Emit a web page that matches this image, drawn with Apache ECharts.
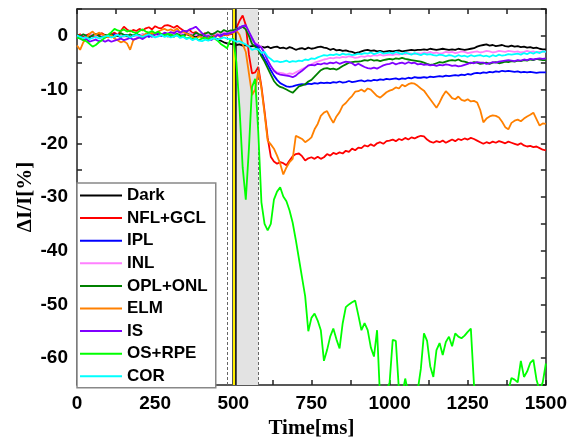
<!DOCTYPE html>
<html><head><meta charset="utf-8">
<script src="https://cdn.jsdelivr.net/npm/echarts@6/dist/echarts.min.js"></script>
<style>html,body{margin:0;padding:0;background:#fff}#c{width:570px;height:444px}</style>
</head><body><div id="c"></div>
<script>
// sampling grid (ms)
const time = [];
for (let t = 0; t <= 1500; t += 10) time.push(t);

const seriesNames = ['Dark','NFL+GCL','IPL','INL','OPL+ONL','ELM','IS','OS+RPE','COR'];
const seriesColors = ['#000000','#ff0000','#0000ff','#ff80ff','#008000','#ff8000','#8000ff','#00ff00','#00ffff'];

const dark = [0.2,0.1,-0.2,0.0,0.3,0.1,-0.1,0.2,0.0,-0.3,
-0.1,0.2,0.3,0.0,-0.2,0.1,0.2,-0.1,0.0,0.3,
0.1,-0.2,0.0,0.2,0.4,0.1,0.0,0.3,0.2,-0.1,
0.0,0.2,0.1,-0.2,0.0,0.3,0.1,0.0,-0.2,0.1,
0.0,-0.3,-0.1,0.1,-0.4,-0.6,-0.9,-1.2,-1.4,-1.5,
-1.6,-1.7,-1.6,-1.8,-1.7,-2.0,-1.9,-1.8,-2.1,-2.0,
-2.2,-2.0,-2.3,-2.1,-2.0,-2.3,-2.2,-2.4,-2.1,-2.3,
-2.6,-2.4,-2.3,-2.5,-2.2,-2.4,-2.3,-2.1,-2.0,-2.2,
-2.3,-2.6,-2.4,-2.7,-2.6,-2.8,-2.7,-2.9,-3.0,-3.2,
-3.1,-2.9,-2.7,-2.6,-2.8,-2.7,-2.9,-2.8,-3.0,-2.9,
-2.8,-2.9,-2.8,-2.7,-2.9,-2.8,-2.7,-2.6,-2.7,-2.6,
-2.6,-2.5,-2.6,-2.4,-2.5,-2.6,-2.5,-2.4,-2.5,-2.6,
-2.5,-2.6,-2.4,-2.5,-2.6,-2.5,-2.4,-2.3,-2.0,-1.8,
-1.7,-1.6,-1.8,-1.7,-1.9,-1.8,-1.7,-1.9,-2.0,-1.8,
-2.0,-1.9,-2.1,-2.0,-2.2,-2.1,-2.3,-2.2,-2.4,-2.5,
-2.5];

const nflGcl = [0.0,0.3,-0.2,0.1,0.4,0.0,-0.3,0.2,0.5,0.1,
-0.2,0.3,0.6,0.2,0.9,1.7,1.2,0.8,1.1,0.9,
1.3,1.0,1.4,1.6,1.2,1.8,1.5,1.4,1.9,2.0,
1.8,1.5,1.9,1.4,1.0,0.8,1.1,0.5,0.7,0.3,
0.2,0.5,0.1,0.4,0.0,0.3,-0.1,0.2,0.1,0.3,
0.4,1.5,2.8,3.8,2.0,-3.5,-7.0,-6.8,-5.8,-9.4,
-14.0,-19.0,-22.5,-23.4,-23.8,-23.5,-23.7,-24.1,-23.2,-22.4,
-22.0,-21.9,-22.4,-23.2,-22.8,-22.6,-22.9,-22.5,-22.9,-22.6,
-22.0,-22.3,-21.8,-22.0,-21.7,-21.9,-21.4,-21.6,-21.0,-21.3,
-20.8,-20.9,-20.4,-20.6,-20.2,-20.5,-20.0,-19.8,-20.1,-19.6,
-19.5,-19.3,-19.6,-19.2,-19.4,-19.0,-19.3,-18.9,-19.1,-18.8,
-18.6,-18.7,-19.3,-19.7,-19.9,-19.6,-19.8,-19.5,-19.9,-19.6,
-19.3,-19.6,-19.2,-19.4,-19.1,-19.3,-19.0,-19.2,-19.5,-19.8,
-20.1,-19.8,-20.0,-19.7,-19.9,-19.6,-19.8,-20.0,-19.7,-19.9,
-20.1,-20.3,-20.0,-20.4,-20.6,-20.5,-20.7,-20.6,-20.9,-21.2,
-21.3];

const ipl = [0.1,-0.2,0.2,0.0,-0.3,0.1,0.3,-0.1,0.0,0.2,
-0.2,0.0,0.3,0.1,-0.1,0.2,0.0,-0.3,0.1,0.2,
0.0,0.3,0.1,-0.2,0.2,0.4,0.1,0.0,0.3,0.2,
0.1,0.4,0.2,0.0,0.3,0.5,0.2,0.1,0.4,0.2,
0.0,0.3,-0.1,0.2,0.4,0.1,0.3,0.5,0.6,0.8,
1.0,1.3,1.6,1.8,1.5,0.6,-0.5,-1.5,-2.3,-3.2,
-4.3,-5.3,-6.4,-7.4,-8.2,-8.8,-9.1,-9.4,-9.5,-9.4,
-9.2,-9.1,-9.0,-9.1,-8.9,-9.0,-8.8,-8.9,-8.7,-8.8,
-8.7,-8.8,-8.6,-8.7,-8.5,-8.7,-8.6,-8.4,-8.6,-8.5,
-8.4,-8.3,-8.5,-8.3,-8.4,-8.2,-8.3,-8.1,-8.2,-8.0,
-8.1,-8.0,-7.9,-8.1,-7.9,-8.0,-7.8,-7.9,-7.7,-7.8,
-7.8,-7.7,-7.8,-7.6,-7.7,-7.6,-7.5,-7.6,-7.4,-7.5,
-7.4,-7.3,-7.4,-7.2,-7.3,-7.1,-7.2,-7.0,-6.9,-7.0,
-6.8,-6.9,-6.7,-6.8,-6.6,-6.7,-6.5,-6.6,-6.5,-6.6,
-6.7,-6.6,-6.8,-6.7,-6.8,-6.7,-6.8,-6.9,-6.8,-6.8,
-6.8];

const inl = [-0.3,0.0,0.2,-0.1,0.1,0.3,0.0,-0.2,0.1,0.0,
0.2,-0.1,0.0,0.3,0.1,-0.2,0.0,0.2,0.1,-0.1,
0.1,0.3,0.0,0.2,0.4,0.1,-0.1,0.2,0.3,0.0,
0.2,0.4,0.1,0.3,0.5,0.2,0.6,0.3,0.1,0.4,
0.0,0.2,0.3,0.1,0.4,0.2,0.5,0.6,0.8,0.7,
0.9,1.2,1.5,1.7,1.4,0.5,-0.4,-1.4,-1.6,-2.1,
-3.2,-4.5,-5.7,-6.4,-6.8,-6.9,-7.0,-7.2,-7.0,-7.1,
-6.8,-6.5,-6.2,-5.9,-5.6,-5.3,-5.0,-4.8,-4.6,-4.4,
-4.3,-4.1,-4.2,-4.0,-4.1,-3.9,-4.0,-3.8,-3.9,-4.1,
-4.0,-3.8,-3.9,-3.7,-3.8,-3.6,-3.7,-3.5,-3.7,-3.6,
-3.5,-3.6,-3.4,-3.5,-3.3,-3.4,-3.2,-3.3,-3.4,-3.2,
-3.3,-3.1,-3.2,-3.0,-3.2,-3.1,-3.3,-3.2,-3.0,-3.1,
-3.0,-3.2,-3.1,-2.9,-3.0,-3.2,-3.1,-3.0,-2.9,-3.1,
-3.0,-2.8,-2.9,-3.1,-3.0,-2.8,-2.9,-3.0,-2.8,-2.9,
-3.0,-2.9,-3.1,-3.0,-2.8,-3.0,-2.9,-3.1,-3.0,-2.9,
-3.0];

const oplOnl = [0.2,-0.1,0.3,0.0,-0.2,0.1,0.4,0.0,-0.3,0.2,
0.0,0.3,-0.2,0.1,0.5,0.2,-0.1,0.3,0.0,0.4,
0.1,-0.3,0.2,0.5,0.0,0.3,0.6,0.1,0.4,0.0,
0.3,-0.2,0.4,0.1,-0.1,0.5,0.2,0.0,0.6,0.3,
0.1,0.4,0.7,0.2,0.5,0.9,0.6,1.1,0.8,1.0,
1.0,1.2,1.4,1.7,1.2,0.0,-1.5,-2.0,-2.6,-3.8,
-4.8,-6.0,-7.2,-8.4,-9.1,-9.5,-9.7,-10.0,-10.3,-10.6,
-10.0,-9.4,-9.2,-9.0,-8.5,-8.2,-7.6,-7.0,-6.4,-6.1,
-6.0,-6.2,-6.1,-6.3,-6.0,-5.6,-5.3,-5.0,-4.9,-4.8,
-4.8,-4.7,-4.5,-4.6,-4.4,-4.6,-4.5,-4.7,-4.5,-4.4,
-4.3,-4.4,-4.2,-4.3,-4.1,-4.3,-4.4,-4.5,-4.6,-4.7,
-4.8,-5.0,-5.2,-5.4,-5.3,-5.1,-4.9,-5.0,-4.8,-4.6,
-4.5,-4.6,-4.4,-4.7,-4.8,-5.0,-5.1,-4.9,-5.0,-5.2,
-5.1,-5.0,-5.2,-5.0,-4.9,-5.1,-5.0,-4.8,-4.9,-4.7,
-4.8,-4.6,-4.7,-4.5,-4.6,-4.4,-4.5,-4.3,-4.4,-4.5,
-4.5];

const elm = [-1.8,-2.6,-1.2,-0.5,0.4,0.8,0.2,0.6,0.3,0.0,
-0.3,0.1,-0.5,-0.8,-1.2,-1.0,-1.4,-2.6,-0.8,-0.5,
-0.3,0.0,0.4,0.2,0.6,0.3,0.8,1.1,1.3,1.0,
1.2,0.9,1.4,0.6,0.8,0.4,0.2,-0.2,-0.5,-0.1,
-0.3,-0.6,-0.2,-0.5,-0.1,0.2,-0.3,0.3,0.1,0.4,
0.6,1.0,0.2,-1.5,-3.0,-7.0,-11.0,-10.0,-6.5,-9.8,
-14.5,-19.5,-20.2,-21.0,-22.3,-23.8,-25.8,-24.5,-23.5,-22.9,
-18.6,-18.9,-19.2,-19.8,-19.4,-18.9,-17.4,-16.4,-14.9,-14.3,
-14.0,-15.2,-16.2,-15.0,-14.2,-13.0,-12.5,-11.8,-11.2,-10.4,
-10.3,-10.0,-10.4,-9.8,-10.0,-10.6,-11.2,-11.5,-11.0,-10.5,
-10.2,-10.0,-9.6,-9.8,-9.1,-9.4,-9.0,-8.8,-8.9,-9.3,
-9.8,-10.2,-11.0,-11.8,-12.6,-13.4,-12.4,-11.2,-10.3,-10.9,
-11.6,-11.8,-11.3,-11.9,-12.1,-11.8,-12.2,-12.1,-12.4,-13.8,
-16.1,-15.4,-15.0,-14.8,-14.9,-15.2,-16.0,-17.0,-17.4,-16.2,
-15.8,-15.6,-15.9,-15.4,-15.0,-14.7,-14.3,-15.5,-16.7,-16.3,
-16.4];

const isLayer = [-0.2,-0.5,-0.8,-0.6,-1.1,-0.9,-0.7,-1.0,-0.8,-1.1,
-0.8,-1.1,-0.9,-0.7,-0.5,-0.8,-0.6,-0.4,-0.7,-0.5,
-0.3,-0.6,-0.2,0.1,-0.2,0.3,0.5,0.2,0.6,0.4,
0.7,0.5,0.9,0.6,1.0,0.8,1.2,1.4,1.7,1.1,
0.5,0.0,-0.5,-0.8,-0.3,0.2,-0.1,0.4,0.3,0.5,
0.7,1.0,1.4,1.8,2.0,0.8,-0.4,-1.5,-1.8,-2.2,
-3.2,-4.6,-5.6,-6.5,-7.0,-7.2,-7.3,-7.4,-7.5,-7.7,
-7.4,-6.9,-6.5,-6.0,-5.5,-5.4,-5.5,-5.2,-5.3,-5.1,
-5.2,-5.0,-5.1,-4.9,-5.2,-5.0,-4.8,-4.9,-5.1,-5.5,
-5.2,-5.5,-5.8,-6.0,-6.1,-5.9,-6.1,-5.8,-5.5,-5.3,
-5.2,-5.0,-5.3,-5.1,-5.0,-5.2,-4.9,-5.1,-5.0,-5.3,
-5.2,-5.4,-5.3,-5.5,-5.4,-5.6,-5.4,-5.5,-5.3,-5.4,
-5.6,-5.5,-5.7,-5.6,-5.4,-5.2,-5.0,-5.1,-4.9,-5.0,
-5.0,-5.2,-5.1,-4.9,-5.0,-4.8,-4.7,-4.6,-4.5,-4.6,
-4.7,-4.5,-4.6,-4.4,-4.5,-4.3,-4.4,-4.3,-4.2,-4.3,
-4.2];

const osRpe = [-0.3,-0.5,-0.8,-1.0,-1.5,-2.0,-1.7,-1.2,-0.8,-0.3,
0.2,0.7,1.3,1.0,0.9,1.2,0.8,1.0,0.7,0.5,
0.9,1.2,0.8,0.6,0.9,0.5,0.8,0.3,0.1,0.4,
0.2,0.0,0.3,-0.2,0.1,-0.5,-0.3,-0.6,-0.4,-0.8,
-0.5,-0.3,-0.6,-0.2,-0.5,-0.9,-1.5,-1.9,-2.3,-0.8,
-0.5,-5.0,-13.5,-24.5,-30.5,-21.0,-9.5,-8.0,-18.0,-31.0,
-35.0,-36.2,-35.0,-30.5,-29.0,-28.2,-29.9,-30.8,-32.5,-34.8,
-38.0,-41.5,-45.0,-48.5,-55.0,-52.5,-51.7,-53.0,-54.8,-60.5,
-58.5,-56.0,-54.5,-56.5,-58.2,-53.5,-50.5,-50.0,-49.6,-49.3,
-52.0,-54.8,-53.5,-54.8,-58.0,-59.7,-54.8,-68.0,-70.0,-66.0,
-64.6,-56.6,-56.8,-66.0,-67.0,-63.8,-66.5,-69.0,-68.0,-66.0,
-62.0,-55.4,-56.8,-61.5,-63.5,-58.5,-57.2,-59.4,-57.0,-56.0,
-57.8,-55.4,-56.0,-56.3,-55.8,-55.1,-54.5,-64.9,-68.0,-70.0,
-69.0,-71.0,-70.0,-68.0,-72.0,-70.0,-69.0,-71.0,-66.0,-63.7,
-64.0,-64.5,-60.5,-63.5,-62.5,-60.9,-60.3,-64.0,-66.0,-64.5,
-61.0];

const cor = [0.1,-0.2,-0.4,-0.3,-0.6,-0.4,-0.2,-0.5,-0.3,-0.1,
0.0,-0.3,-0.1,0.2,-0.2,0.0,0.1,-0.3,0.0,0.2,
0.0,-0.2,0.1,0.3,0.0,-0.3,-0.1,0.2,-0.2,0.0,
-0.3,-0.1,0.1,-0.4,-0.2,-0.6,-0.4,-0.8,-0.5,-0.9,
-1.0,-0.7,-0.9,-0.6,-0.4,-0.7,-0.5,-0.3,-0.5,-0.6,
-0.8,-1.1,-1.0,-1.3,-1.6,-2.0,-2.6,-2.4,-2.5,-3.2,
-3.0,-3.9,-4.3,-4.8,-4.7,-4.9,-4.8,-4.6,-4.9,-4.7,
-4.8,-4.6,-4.7,-4.4,-4.5,-4.2,-4.3,-4.0,-3.8,-3.6,
-3.7,-3.5,-3.6,-3.4,-3.6,-3.3,-3.5,-3.4,-3.6,-3.5,
-3.3,-3.4,-3.2,-3.3,-3.1,-3.4,-3.2,-3.0,-3.3,-3.2,
-3.1,-3.3,-3.0,-3.2,-3.4,-3.1,-3.3,-3.5,-3.2,-3.4,
-3.6,-3.3,-3.5,-3.4,-3.6,-3.7,-3.5,-3.6,-3.8,-3.6,
-3.7,-3.9,-3.6,-3.8,-3.7,-3.9,-3.6,-3.8,-3.7,-3.6,
-3.8,-3.7,-3.9,-3.6,-3.8,-3.5,-3.7,-3.6,-3.4,-3.5,
-3.4,-3.3,-3.5,-3.2,-3.4,-3.1,-3.3,-3.0,-3.2,-2.9,
-3.0];

const seriesValues = [dark, nflGcl, ipl, inl, oplOnl, elm, isLayer, osRpe, cor];

// stimulus annotations (ms)
const stimulusBand = [496, 580];
const dashedMarks = [480, 580];
const flashTime = 502;

// axes
const xRange = [0, 1500], xStep = 125, xLabelStep = 250;
const yRange = [-65, 5], yStep = 5, yLabelStep = 10;

const chart = echarts.init(document.getElementById('c'), null, {renderer: 'canvas'});
const sansBold = {fontFamily: 'Liberation Sans, Arial, sans-serif', fontWeight: 'bold', fontSize: 19, color: '#000'};
const axisLineStyle = {color: '#222', width: 1.5};

const lineSeries = seriesNames.map((name, i) => ({
  name, type: 'line', symbol: 'none', showSymbol: false, clip: true,
  data: time.map((t, k) => [t, seriesValues[i][k]]),
  lineStyle: {color: seriesColors[i], width: 1.8},
  itemStyle: {color: seriesColors[i]},
  z: 3 + i, animation: false
}));

const helperBack = {
  name: '_band', type: 'line', data: [], silent: true, animation: false, z: 1,
  markArea: {silent: true, itemStyle: {color: '#e3e3e3'},
    data: [[{xAxis: stimulusBand[0]}, {xAxis: stimulusBand[1]}]]},
  markLine: {silent: true, symbol: 'none', label: {show: false}, animation: false,
    data: dashedMarks.map(v => ({xAxis: v, lineStyle: {color: '#666', type: [3, 2], width: 1}}))}
};
const helperFront = {
  name: '_flash', type: 'line', data: [], silent: true, animation: false, z: 20,
  markLine: {silent: true, symbol: 'none', label: {show: false}, animation: false,
    data: [{xAxis: flashTime, lineStyle: {color: '#222', width: 4.5, type: 'solid'}}]}
};
const helperFront2 = {
  name: '_flash2', type: 'line', data: [], silent: true, animation: false, z: 21,
  markLine: {silent: true, symbol: 'none', label: {show: false}, animation: false,
    data: [{xAxis: flashTime, lineStyle: {color: '#ffee00', width: 2, type: 'solid'}}]}
};

chart.setOption({
  animation: false,
  backgroundColor: '#fff',
  grid: {left: 77, right: 24, top: 9, bottom: 57, containLabel: false},
  legend: {
    data: seriesNames, orient: 'vertical', left: 77, top: 183,
    selectedMode: false, backgroundColor: '#fff', borderColor: '#888', borderWidth: 1.5,
    padding: [4, 8, 3, 2], itemWidth: 42, itemHeight: 14, itemGap: 5.6,
    itemStyle: {opacity: 0},
    lineStyle: {width: 2},
    textStyle: {fontFamily: 'Liberation Sans, Arial, sans-serif', fontWeight: 'bold', fontSize: 17, color: '#000'},
    z: 30
  },
  xAxis: [
    {type: 'value', min: xRange[0], max: xRange[1], interval: xStep, position: 'bottom',
     name: 'Time[ms]', nameLocation: 'middle', nameGap: 33,
     nameTextStyle: {fontFamily: 'Liberation Serif, Times New Roman, serif', fontWeight: 'bold', fontSize: 21, color: '#000'},
     axisLine: {show: true, onZero: false, lineStyle: axisLineStyle},
     axisTick: {show: true, inside: true, length: 5, lineStyle: axisLineStyle},
     axisLabel: Object.assign({margin: 9, formatter: v => (v % xLabelStep === 0 ? String(v) : '')}, sansBold),
     splitLine: {show: false}},
    {type: 'value', min: xRange[0], max: xRange[1], interval: xStep, position: 'top',
     axisLine: {show: true, onZero: false, lineStyle: axisLineStyle},
     axisTick: {show: true, inside: true, length: 5, lineStyle: axisLineStyle},
     axisLabel: {show: false}, splitLine: {show: false}}
  ],
  yAxis: [
    {type: 'value', min: yRange[0], max: yRange[1], interval: yStep, position: 'left',
     name: 'ΔI/I[%]', nameLocation: 'middle', nameGap: 41, nameRotate: 90, nameMoveOverlap: false,
     nameTextStyle: {fontFamily: 'Liberation Serif, Times New Roman, serif', fontWeight: 'bold', fontSize: 21, color: '#000'},
     axisLine: {show: true, onZero: false, lineStyle: axisLineStyle},
     axisTick: {show: true, inside: true, length: 5, lineStyle: axisLineStyle},
     axisLabel: Object.assign({margin: 9, formatter: v => (v % yLabelStep === 0 ? String(v) : '')}, sansBold),
     splitLine: {show: false}},
    {type: 'value', min: yRange[0], max: yRange[1], interval: yStep, position: 'right',
     axisLine: {show: true, onZero: false, lineStyle: axisLineStyle},
     axisTick: {show: true, inside: true, length: 5, lineStyle: axisLineStyle},
     axisLabel: {show: false}, splitLine: {show: false}}
  ],
  series: [helperBack].concat(lineSeries, [helperFront, helperFront2])
});
</script>
</body></html>
